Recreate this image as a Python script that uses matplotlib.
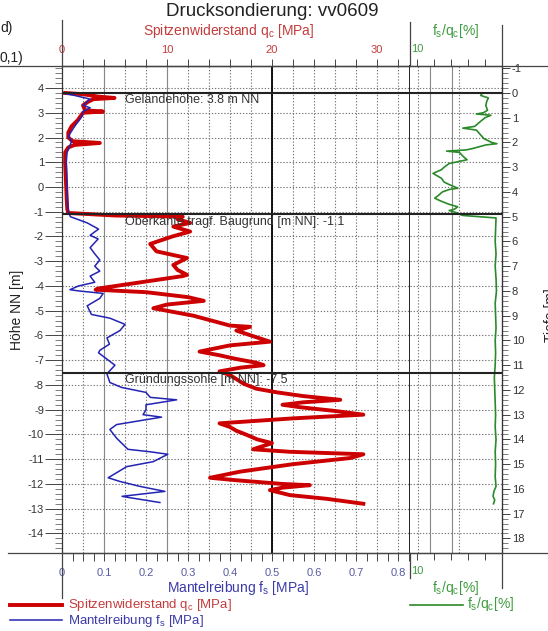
import numpy as np
import matplotlib
matplotlib.use("Agg")
import matplotlib.pyplot as plt
from matplotlib.lines import Line2D
from matplotlib.ticker import MultipleLocator, FixedLocator

plt.rcParams["font.family"] = ["Liberation Sans", "DejaVu Sans"]
plt.rcParams["mathtext.fontset"] = "custom"
plt.rcParams["mathtext.rm"] = "Liberation Sans"
plt.rcParams["axes.unicode_minus"] = False

# Geländehöhe / Schichtgrenzen [m NN]
gelaende = 3.8
oberkante = -1.1
gruendung = -7.5

# Spitzenwiderstand qc [MPa] über Höhe NN
qc_hoehe = [3.8, 3.75, 3.65, 3.6, 3.55, 3.45, 3.3, 3.1, 3.05, 3.0, 2.7, 2.45, 2.2, 2.0,
            1.85, 1.78, 1.7, 1.6, 1.4, 1.0, 0.5, 0.0, -0.5, -0.9, -1.05, -1.15, -1.2,
            -1.3, -1.45, -1.6, -1.8, -2.0, -2.3, -2.6, -2.87, -3.15, -3.35, -3.55, -3.6,
            -4.1, -4.15, -4.25, -4.45, -4.6, -4.75, -4.9, -5.0, -5.2, -5.45, -5.6, -5.65,
            -5.8, -6.0, -6.25, -6.4, -6.65, -6.8, -6.95, -7.1, -7.2, -7.3, -7.45, -7.6,
            -7.95, -8.15, -8.3, -8.45, -8.6, -8.7, -8.8, -8.9, -9.05, -9.2, -9.35, -9.55,
            -9.7, -9.85, -10.0, -10.2, -10.35, -10.6, -10.7, -10.8, -10.95, -11.2, -11.5,
            -11.75, -11.85, -12.0, -12.05, -12.15, -12.25, -12.45, -12.6, -12.8]
qc_wert = [0.3, 2.0, 3.5, 5.0, 3.0, 2.5, 2.0, 2.2, 3.9, 2.0, 1.5, 0.9, 0.6, 0.6,
           1.0, 3.6, 1.2, 0.6, 0.3, 0.3, 0.35, 0.4, 0.45, 0.5, 0.6, 5.0, 11.5,
           11.0, 12.2, 10.6, 12.2, 10.5, 8.4, 9.0, 11.9, 10.6, 11.0, 11.9, 11.5,
           3.5, 3.2, 8.0, 12.0, 13.5, 10.0, 8.7, 10.0, 12.5, 14.7, 16.0, 17.9,
           16.6, 18.0, 19.8, 16.0, 13.1, 15.0, 16.6, 18.5, 19.2, 17.0, 15.0, 16.0,
           17.3, 18.5, 20.5, 23.0, 26.5, 23.0, 21.0, 22.7, 26.0, 28.7, 22.0, 15.0,
           16.0, 16.6, 17.5, 18.6, 20.0, 18.2, 21.7, 28.7, 27.5, 22.0, 17.0,
           14.1, 16.6, 21.0, 23.6, 21.0, 19.8, 21.7, 25.2, 28.7]

# Mantelreibung fs [MPa] über Höhe NN
fs_hoehe = [3.8, 3.7, 3.6, 3.55, 3.3, 3.2, 3.05, 2.85, 2.45, 2.05, 1.85, 1.4, 1.0, 0.0,
            -0.5, -1.0, -1.2, -1.45, -1.7, -1.95, -2.1, -2.45, -2.7, -2.95, -3.2, -3.4,
            -3.6, -3.85, -4.0, -4.15, -4.2, -4.3, -4.5, -4.8, -5.15, -5.3, -5.55, -5.8,
            -6.1, -6.35, -6.6, -6.7, -7.2, -7.55, -7.9, -8.1, -8.3, -8.5, -8.6, -8.8,
            -9.0, -9.2, -9.3, -9.6, -9.8, -10.15, -10.6, -10.7, -10.8, -11.1, -11.3,
            -11.75, -11.9, -12.1, -12.3, -12.5, -12.55, -12.75]
fs_wert = [0.0, 0.03, 0.055, 0.067, 0.05, 0.067, 0.05, 0.047, 0.03, 0.015, 0.023, 0.012,
           0.01, 0.012, 0.013, 0.015, 0.02, 0.06, 0.087, 0.067, 0.086, 0.067, 0.078, 0.09,
           0.078, 0.09, 0.067, 0.078, 0.039, 0.019, 0.04, 0.098, 0.09, 0.06, 0.07, 0.114,
           0.15, 0.138, 0.107, 0.113, 0.09, 0.087, 0.126, 0.107, 0.114, 0.142, 0.2, 0.21,
           0.273, 0.2, 0.2, 0.193, 0.237, 0.13, 0.114, 0.13, 0.157, 0.21, 0.252, 0.217,
           0.154, 0.11, 0.138, 0.186, 0.245, 0.143, 0.16, 0.233]

# Reibungsverhältnis fs/qc [%] über Tiefe [m]
rf_tiefe = [0.0, 0.1, 0.2, 0.35, 0.5, 0.7, 0.8, 0.85, 0.9, 1.0, 1.2, 1.35, 1.42, 1.5,
            1.7, 1.85, 2.0, 2.05, 2.1, 2.25, 2.3, 2.35, 2.4, 2.55, 2.7, 2.85, 3.0, 3.1,
            3.25, 3.45, 3.6, 3.7, 3.85, 3.9, 4.0, 4.15, 4.25, 4.35, 4.5, 4.6, 4.7, 4.75,
            4.85, 4.9, 4.95, 5.05, 5.5, 6.0, 6.5, 7.0, 7.5, 8.0, 8.5, 9.0, 9.5, 10.0,
            10.5, 11.0, 11.5, 12.0, 12.5, 13.0, 13.5, 14.0, 14.5, 15.0, 15.5, 15.9,
            16.1, 16.3, 16.45, 16.6]
rf_wert = [2.3, 2.5, 1.6, 1.8, 1.9, 1.7, 2.2, 3.0, 1.3, 2.0, 2.7, 3.2, 4.6, 3.0,
           2.5, 2.1, 1.2, 0.6, 1.9, 3.5, 4.2, 6.5, 5.0, 4.6, 4.1, 6.2, 6.8, 7.1,
           8.1, 7.1, 6.8, 6.2, 5.2, 6.2, 7.0, 7.5, 7.9, 7.3, 6.2, 5.2, 5.6, 6.2,
           5.2, 5.0, 4.6, 0.7, 0.75, 0.8, 0.7, 0.8, 0.7, 0.65, 0.8, 0.75, 0.7, 0.8,
           0.75, 0.8, 0.9, 0.85, 0.8, 0.75, 0.8, 0.7, 0.8, 0.75, 0.8, 0.7,
           0.95, 1.05, 0.85, 1.0]

rot = "#cc0000"
blau = "#2323b4"
gruen = "#2a8a2a"
rot_txt = "#c43c3c"
blau_txt = "#3a3aa8"
gruen_txt = "#3f9b3f"
dot = (0, (1.2, 1.6))

W, H = 548, 631
fig = plt.figure(figsize=(W / 100, H / 100), dpi=100)


def fx(p):
    return p / W


def fy(p):
    return 1 - p / H


ylo, yhi = -14.79, 4.89
ax1 = fig.add_axes([fx(62), fy(553), fx(410) - fx(62), fy(66) - fy(553)])
ax3 = fig.add_axes([fx(410), fy(553), fx(502) - fx(410), fy(66) - fy(553)])

# ---- Hauptdiagramm (fs unten, qc oben)
ax1.set_xlim(0, 348 / 420)
ax1.set_ylim(ylo, yhi)
for v in np.arange(0.05, 0.83, 0.05):
    ax1.axvline(v, color="#777777", lw=0.8, ls=dot, zorder=1)
for h in range(-14, 5):
    ax1.axhline(h, color="#777777", lw=0.8, ls=dot, zorder=1)
ax1.axvline(0.1, color="#888888", lw=0.8, zorder=1)
ax1.axvline(0.25, color="#888888", lw=0.8, zorder=1)
ax1.axvline(0.5, color="black", lw=1.3, zorder=2)

ax1.plot(np.array(qc_wert) / 40, qc_hoehe, color=rot, lw=2.8, zorder=4)
ax1.plot(fs_wert, fs_hoehe, color=blau, lw=1.1, zorder=5)

for ax in (ax1, ax3):
    for h in (gelaende, oberkante, gruendung):
        ax.axhline(h, color="#222222", lw=1.5, zorder=6)

ax1.text(0.15, 3.52, "Geländehöhe: 3.8 m NN", fontsize=9, color="#333333", va="center", zorder=7)
ax1.text(0.15, -1.41, "Oberkante tragf. Baugrund [m NN]: -1.1", fontsize=9, color="#333333",
         va="center", zorder=7)
ax1.text(0.15, -7.8, "Gründungssohle [m NN]: -7.5", fontsize=9, color="#333333", va="center",
         zorder=7)

ax1.xaxis.set_minor_locator(MultipleLocator(0.025))
ax1.set_xticks(np.round(np.arange(0, 0.81, 0.1), 1))
ax1.set_xticklabels(["0", "0.1", "0.2", "0.3", "0.4", "0.5", "0.6", "0.7", "0.8"])
ax1.tick_params(axis="x", which="both", direction="out", length=6, width=0.7, pad=5,
                labelsize=8, labelcolor="#5a5aa0", color="#444444")
ax1.yaxis.set_major_locator(MultipleLocator(1))
ax1.yaxis.set_minor_locator(MultipleLocator(0.2))
ax1.tick_params(axis="y", which="major", direction="out", length=12, width=0.7, pad=1,
                labelsize=8, labelcolor="#333333", color="#444444")
ax1.tick_params(axis="y", which="minor", direction="out", length=5, width=0.6, color="#666666")
for s in ("left", "top", "bottom"):
    ax1.spines[s].set_color("#333333")
    ax1.spines[s].set_linewidth(0.9)
ax1.spines["right"].set_color("#222222")
ax1.spines["right"].set_linewidth(1.4)

sec = ax1.secondary_xaxis("top", functions=(lambda f: f * 40, lambda q: q / 40))
sec.xaxis.set_major_locator(FixedLocator([0, 10, 20, 30]))
sec.xaxis.set_minor_locator(MultipleLocator(2))
sec.tick_params(which="both", direction="out", length=5, width=0.7, pad=3, labelsize=8,
                labelcolor=rot_txt, color="#444444")
sec.spines["top"].set_color("#333333")

# ---- fs/qc Diagramm
ax3.set_xlim(10.8, 0)
ax3.set_ylim(ylo, yhi)
for h in range(-14, 5):
    ax3.axhline(h, color="#777777", lw=0.8, ls=dot, zorder=1)
for v in (9.9, 5.0):
    ax3.axvline(v, color="#777777", lw=0.8, ls=dot, zorder=1)
for v in (8.4, 5.9):
    ax3.axvline(v, color="#888888", lw=0.8, zorder=1)
ax3.plot(rf_wert, gelaende - np.array(rf_tiefe), color=gruen, lw=1.2, zorder=5)

ax3.set_xticks([10, 8, 6, 4, 2])
ax3.set_xticklabels(["10", "", "", "", ""])
ax3.tick_params(axis="x", which="both", direction="out", length=5, width=0.7, pad=4,
                labelsize=8, labelcolor=gruen_txt, color="#444444", top=True, labeltop=True)
ax3.tick_params(axis="y", left=False, labelleft=False)
ax3.spines["left"].set_visible(False)
for s in ("right", "top", "bottom"):
    ax3.spines[s].set_color("#333333")
    ax3.spines[s].set_linewidth(0.9)

tiefe_ax = ax3.secondary_yaxis("right", functions=(lambda h: gelaende - h, lambda t: gelaende - t))
tiefe_ax.yaxis.set_major_locator(FixedLocator(list(range(-1, 19))))
tiefe_ax.yaxis.set_minor_locator(MultipleLocator(0.2))
tiefe_ax.tick_params(which="major", direction="out", length=6, width=0.7, pad=1, labelsize=8,
                     labelcolor="#333333", color="#444444")
tiefe_ax.tick_params(which="minor", direction="out", length=4, width=0.6, color="#666666")
tiefe_ax.spines["right"].set_color("#333333")

# ---- Rahmenlinien ausserhalb der Achsen
for xs, ys in (([0, W], [66, 66]), ([8, W], [553, 553]), ([62, 62], [20, 66]),
               ([62, 62], [553, 598]), ([410, 410], [22, 66]), ([410, 410], [553, 578]),
               ([502, 502], [25, 66]), ([502, 502], [553, 588])):
    fig.add_artist(Line2D([fx(x) for x in xs], [fy(y) for y in ys], color="#444444", lw=0.9))

# ---- Beschriftungen
fig.text(fx(272), fy(12), "Drucksondierung: vv0609", fontsize=13.5, ha="center", va="center",
         color="#222222")
fig.text(fx(229), fy(31), "Spitzenwiderstand q$_\\mathregular{c}$ [MPa]", fontsize=10,
         ha="center", va="center", color=rot_txt)
fig.text(fx(456), fy(31), "f$_\\mathregular{s}$/q$_\\mathregular{c}$[%]", fontsize=10,
         ha="center", va="center", color=gruen_txt)
fig.text(fx(238), fy(588), "Mantelreibung f$_\\mathregular{s}$ [MPa]", fontsize=10,
         ha="center", va="center", color=blau_txt)
fig.text(fx(456), fy(588), "f$_\\mathregular{s}$/q$_\\mathregular{c}$[%]", fontsize=10,
         ha="center", va="center", color=gruen_txt)
fig.text(fx(17), fy(310), "Höhe NN [m]", fontsize=10, rotation=90, ha="center", va="center",
         color="#222222")
fig.text(fx(551), fy(315), "Tiefe [m]", fontsize=10, rotation=90, ha="center", va="center",
         color="#222222")
fig.text(0, fy(28), "d)", fontsize=10, ha="left", va="center", color="#222222")
fig.text(0, fy(58), "0,1)", fontsize=10, ha="left", va="center", color="#222222")

# ---- Legende
fig.add_artist(Line2D([fx(10), fx(62)], [fy(605), fy(605)], color=rot, lw=2.8))
fig.text(fx(68), fy(605), "Spitzenwiderstand q$_\\mathregular{c}$ [MPa]", fontsize=9.5,
         ha="left", va="center", color=rot_txt)
fig.add_artist(Line2D([fx(10), fx(62)], [fy(620), fy(620)], color=blau, lw=1.1))
fig.text(fx(68), fy(621), "Mantelreibung f$_\\mathregular{s}$ [MPa]", fontsize=9.5,
         ha="left", va="center", color=blau_txt)
fig.add_artist(Line2D([fx(410), fx(463)], [fy(605), fy(605)], color=gruen, lw=1.2))
fig.text(fx(467), fy(604), "f$_\\mathregular{s}$/q$_\\mathregular{c}$[%]", fontsize=10,
         ha="left", va="center", color=gruen_txt)

fig.savefig("out.png", dpi=100)
